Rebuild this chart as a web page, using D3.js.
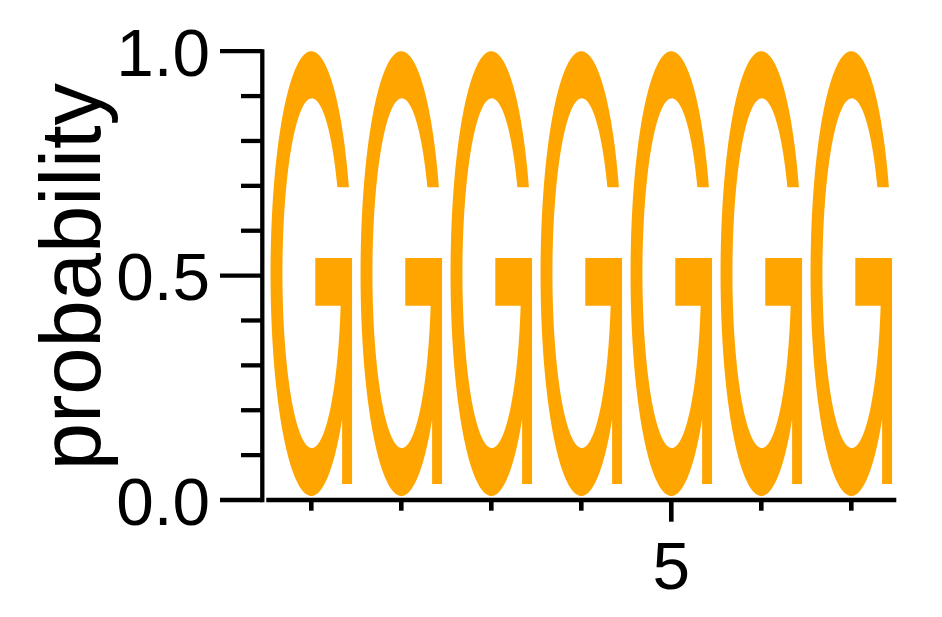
<!DOCTYPE html>
<html>
<head>
<meta charset="utf-8">
<script src="https://cdn.jsdelivr.net/npm/d3@7"></script>
<style>
  html, body { margin: 0; padding: 0; background: #fff; }
  svg { display: block; }
  text { font-family: "Liberation Sans", Arial, Helvetica, sans-serif; fill: #000; }
</style>
</head>
<body>
<svg id="chart" width="942" height="617"></svg>
<script>
// ---- data ----
const positions = [1, 2, 3, 4, 5, 6, 7];
const letters   = ["G", "G", "G", "G", "G", "G", "G"];
const probs     = [1.0, 1.0, 1.0, 1.0, 1.0, 1.0, 1.0];
const yMajorTicks  = [0, 0.5, 1.0];
const yTickLabels  = ["0.0", "0.5", "1.0"];
const yMinorTicks  = [0.1, 0.2, 0.3, 0.4, 0.6, 0.7, 0.8, 0.9];
const xMajorTicks  = [5];
const xTickLabels  = ["5"];
const yTitle = "probability";
const letterColors = { G: "#FFA500" };

// ---- layout ----
const W = 942, H = 617;
const svg = d3.select("#chart");
const x = d3.scaleLinear().domain([0.5, 7.5]).range([266.3, 896.3]);
const y = d3.scaleLinear().domain([0, 1]).range([500, 51.2]);
const band = x(2) - x(1);
const letterWidth = 0.906 * band;
const padTop = 0, padBottom = 4;
const axisW = 4.3;

// ---- glyph shape for "G" in a unit box (0..1) ----
const GS = { oc: [0.5, 0.5], or: [0.5, 0.5], ic: [0.506, 0.499], ir: [0.36, 0.393],
             termV: 0.306, barTop: 0.465, barBot: 0.572, barLeft: 0.549,
             stemLeft: 0.878, stemRight: 1.0, stemBot: 0.973 };

function glyphG(x0, y0, w, h) {
  const P = (u, v) => [x0 + u * w, y0 + v * h];
  const pts = [];
  const ell = (c, r, t) => P(c[0] + r[0] * Math.cos(t), c[1] + r[1] * Math.sin(t));
  // outer arc: from terminal, over top, around left and bottom to the stem
  const a0 = Math.asin((GS.termV - GS.oc[1]) / GS.or[1]);
  const aJ = Math.acos((GS.stemLeft - GS.oc[0]) / GS.or[0]) - 2 * Math.PI;
  const N = 160;
  for (let i = 0; i <= N; i++) pts.push(ell(GS.oc, GS.or, a0 + (aJ - a0) * i / N));
  pts.push(P(GS.stemLeft, GS.stemBot));
  pts.push(P(GS.stemRight, GS.stemBot));
  pts.push(P(GS.stemRight, GS.barTop));
  pts.push(P(GS.barLeft, GS.barTop));
  pts.push(P(GS.barLeft, GS.barBot));
  // inner arc: from crossbar bottom, around bottom, left, top to terminal
  const b0 = Math.asin((GS.barBot - GS.ic[1]) / GS.ir[1]);
  const b1 = Math.asin((GS.termV - GS.ic[1]) / GS.ir[1]) + 2 * Math.PI;
  for (let i = 0; i <= N; i++) pts.push(ell(GS.ic, GS.ir, b0 + (b1 - b0) * i / N));
  return "M" + pts.map(p => p[0].toFixed(2) + "," + p[1].toFixed(2)).join("L") + "Z";
}

// ---- letters (stacked by probability) ----
const gLetters = svg.append("g");
positions.forEach((pos, i) => {
  const lo = 0, hi = probs[i];
  const top = y(hi) + padTop, bottom = y(lo) - padBottom;
  const left = x(pos) - letterWidth / 2;
  if (letters[i] === "G") {
    gLetters.append("path")
      .attr("d", glyphG(left, top, letterWidth, bottom - top))
      .attr("fill", letterColors[letters[i]]);
  }
});

// ---- y axis ----
const gy = svg.append("g");
gy.append("line")
  .attr("x1", 262.3).attr("x2", 262.3)
  .attr("y1", y(1) - 2).attr("y2", y(0) + 2.2)
  .attr("stroke", "#000").attr("stroke-width", axisW);
gy.selectAll("line.major").data(yMajorTicks).enter().append("line")
  .attr("class", "major")
  .attr("x1", 220).attr("x2", 262.3)
  .attr("y1", d => y(d)).attr("y2", d => y(d))
  .attr("stroke", "#000").attr("stroke-width", axisW);
gy.selectAll("line.minor").data(yMinorTicks).enter().append("line")
  .attr("class", "minor")
  .attr("x1", 241).attr("x2", 262.3)
  .attr("y1", d => y(d)).attr("y2", d => y(d))
  .attr("stroke", "#000").attr("stroke-width", axisW);
gy.selectAll("text.tl").data(yMajorTicks).enter().append("text")
  .attr("class", "tl")
  .attr("x", 210).attr("y", d => y(d) + 24.5)
  .attr("text-anchor", "end")
  .attr("font-size", 67.5)
  .text((d, i) => yTickLabels[i]);
svg.append("text")
  .attr("transform", `translate(99.5,${(y(0) + y(1)) / 2 + 1}) rotate(-90)`)
  .attr("text-anchor", "middle")
  .attr("font-size", 85)
  .text(yTitle);

// ---- x axis ----
const gx = svg.append("g");
gx.append("line")
  .attr("x1", x(0.5)).attr("x2", x(7.5))
  .attr("y1", y(0)).attr("y2", y(0))
  .attr("stroke", "#000").attr("stroke-width", 4.6);
gx.selectAll("line.minor").data(positions.filter(p => !xMajorTicks.includes(p))).enter().append("line")
  .attr("class", "minor")
  .attr("x1", d => x(d)).attr("x2", d => x(d))
  .attr("y1", y(0)).attr("y2", 510.7)
  .attr("stroke", "#000").attr("stroke-width", 4.6);
gx.selectAll("line.major").data(xMajorTicks).enter().append("line")
  .attr("class", "major")
  .attr("x1", d => x(d)).attr("x2", d => x(d))
  .attr("y1", y(0)).attr("y2", 521.7)
  .attr("stroke", "#000").attr("stroke-width", 4.6);
gx.selectAll("text.tl").data(xMajorTicks).enter().append("text")
  .attr("class", "tl")
  .attr("x", d => x(d)).attr("y", 589)
  .attr("text-anchor", "middle")
  .attr("font-size", 67.5)
  .text((d, i) => xTickLabels[i]);
</script>
</body>
</html>
